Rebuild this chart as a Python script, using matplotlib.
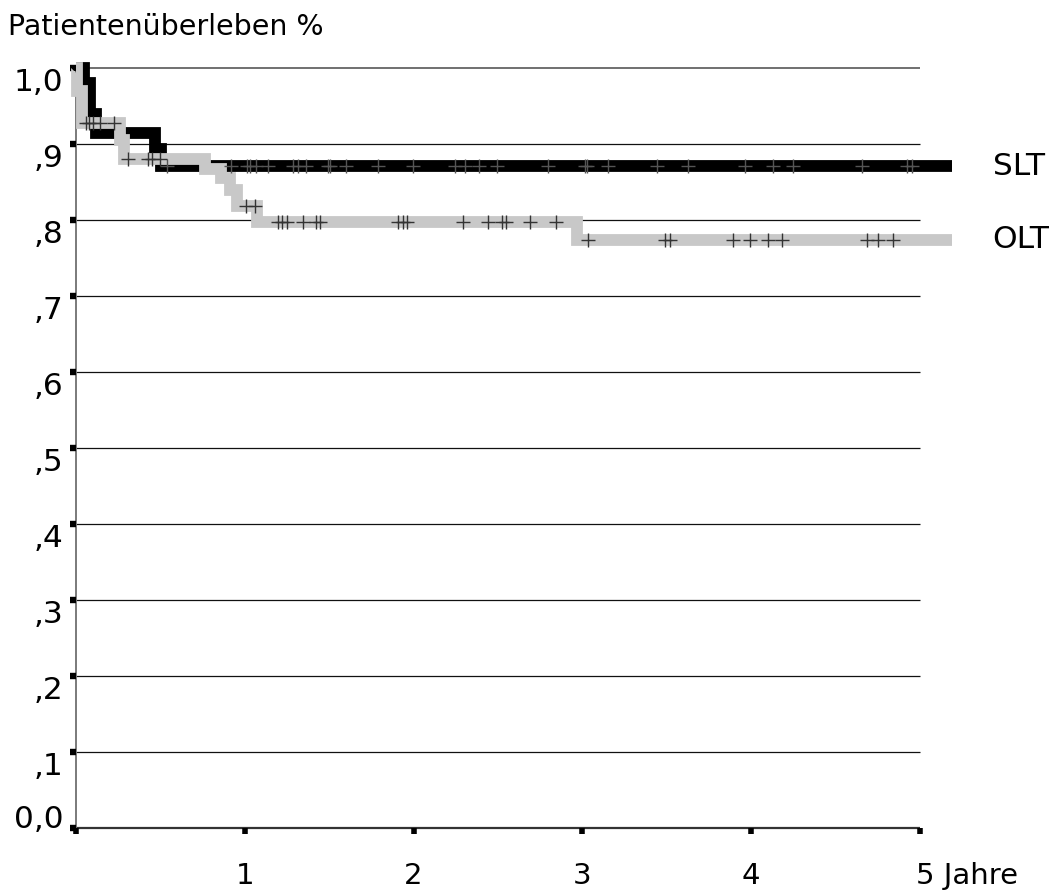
import numpy as np
import matplotlib
matplotlib.use("Agg")
import matplotlib.pyplot as plt
from matplotlib.transforms import ScaledTranslation

plt.rcParams['font.family'] = ['DejaVu Sans']

# ---------------- data ----------------
title = "Patientenüberleben %"
x_ticks = [0, 1, 2, 3, 4, 5]
x_tick_labels = ["", "1", "2", "3", "4", "5 Jahre"]
y_ticks = [0.0, 0.1, 0.2, 0.3, 0.4, 0.5, 0.6, 0.7, 0.8, 0.9, 1.0]
y_tick_labels = ["0,0", ",1", ",2", ",3", ",4", ",5", ",6", ",7", ",8", ",9", "1,0"]

# SLT Kaplan-Meier steps (time in years, survival)
slt_t = [0.0, 0.05, 0.085, 0.12, 0.47, 0.505, 5.19]
slt_s = [1.0, 0.98, 0.94, 0.914, 0.893, 0.871, 0.871]
slt_censor = [0.54, 0.918, 1.013, 1.031, 1.066, 1.137, 1.286, 1.315, 1.363,
              1.493, 1.505, 1.60, 1.789, 1.996, 2.245, 2.305, 2.387, 2.494,
              2.796, 3.015, 3.027, 3.152, 3.442, 3.626, 3.963, 4.129, 4.248,
              4.656, 4.923, 4.953]

# OLT Kaplan-Meier steps
olt_t = [0.0, 0.006, 0.036, 0.26, 0.285, 0.765, 0.86, 0.91, 0.955, 1.075, 2.97, 5.19]
olt_s = [1.0, 0.97, 0.928, 0.905, 0.88, 0.867, 0.855, 0.84, 0.818, 0.797, 0.774, 0.774]
olt_censor = [0.059, 0.079, 0.102, 0.142, 0.225, 0.308, 0.427, 0.45, 0.498,
              1.01, 1.06, 1.197, 1.22, 1.25, 1.345, 1.42, 1.445, 1.908, 1.937,
              1.961, 2.293, 2.44, 2.524, 2.547, 2.69, 2.844, 3.033, 3.489,
              3.519, 3.892, 3.993, 4.10, 4.182, 4.686, 4.751, 4.84]

series_labels = ["SLT", "OLT"]


def step_value(times, surv, t):
    idx = np.searchsorted(np.asarray(times), t, side="right") - 1
    return np.asarray(surv)[idx]


# ---------------- figure ----------------
W, H = 1059, 891
fig = plt.figure(figsize=(W / 100, H / 100), dpi=100)
px_per_year = 168.8
ax = fig.add_axes([76 / W, 63 / H, 5.3 * px_per_year / W, 760 / H])
ax.set_xlim(0, 5.3)
ax.set_ylim(0, 1)
for s in ax.spines.values():
    s.set_visible(False)

# grid lines
ax.hlines(y_ticks[1:-1], 0, 5, color="#111111", lw=0.9, zorder=1)
ax.hlines(y_ticks[-1], 0, 5, color="#707070", lw=1.4, zorder=1, clip_on=False)
ax.hlines(0, 0, 5, color="#333333", lw=1.6, zorder=1, clip_on=False)
ax.vlines(0, 0, 1, color="#707070", lw=1.3, zorder=1, clip_on=False)

# curves
lw = 8.5
ax.plot(slt_t, slt_s, drawstyle="steps-post", color="black", lw=lw,
        solid_joinstyle="miter", solid_capstyle="butt", zorder=3, clip_on=False)
ax.plot(olt_t, olt_s, drawstyle="steps-post", color="#c8c8c8", lw=lw,
        solid_joinstyle="miter", solid_capstyle="butt", zorder=4, clip_on=False)

# censor marks
ax.plot(slt_censor, step_value(slt_t, slt_s, slt_censor), ls="none",
        marker="+", ms=10.5, mew=1.0, color="#555555", zorder=5, clip_on=False)
ax.plot(olt_censor, step_value(olt_t, olt_s, olt_censor), ls="none",
        marker="+", ms=10.5, mew=1.0, color="#333333", zorder=5, clip_on=False)

# ticks
ax.set_yticks(y_ticks)
ax.set_yticklabels(y_tick_labels)
ax.tick_params(axis="y", direction="out", length=4.3, width=4.6, color="black",
               pad=4.6, labelsize=22.5)
for lab in ax.get_yticklabels():
    lab.set_va("top" if lab.get_text() != "0,0" else "baseline")

ax.set_xticks(x_ticks)
ax.set_xticklabels(x_tick_labels)
ax.tick_params(axis="x", direction="out", length=4.0, width=4.0, color="black",
               pad=20.5, labelsize=21)
for lab in ax.get_xticklabels():
    if lab.get_text().startswith("5 "):
        lab.set_ha("left")
        lab.set_transform(lab.get_transform() +
                          ScaledTranslation(-4 / 100, 0, fig.dpi_scale_trans))

# series labels
ax.text(5.43, step_value(slt_t, slt_s, 5.0), series_labels[0], fontsize=22.5,
        ha="left", va="center", clip_on=False)
ax.text(5.43, step_value(olt_t, olt_s, 5.0), series_labels[1], fontsize=22.5,
        ha="left", va="center", clip_on=False)

# title
fig.text(8.5 / W, 1 - 35 / H, title, fontsize=20.5, ha="left", va="baseline")

fig.savefig("out.png", dpi=100)
